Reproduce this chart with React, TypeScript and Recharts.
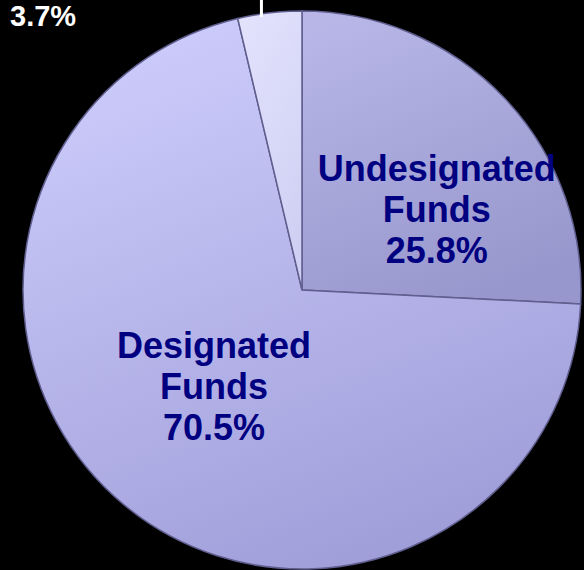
import React from "react";
import { PieChart, Pie, Cell } from "recharts";

const names = ["Undesignated Funds", "Designated Funds", "Other"];
const shares = [25.8, 70.5, 3.7];
const showName = [true, true, false];

const data = names.map((name, i) => ({ name, value: shares[i] }));

const gradients = [
  { id: "gUndes", from: "#b7b6e7", to: "#9897cd" },
  { id: "gDes", from: "#cdcdfc", to: "#a09ed9" },
  { id: "gOther", from: "#e2e2fd", to: "#cfcff3" },
];

// label placement: radius factor + angle tweak relative to the slice mid angle
const labelLayout = [
  { rf: 0.564, shift: -12.5 },
  { rf: 0.467, shift: -2.7 },
  { rf: 1, shift: 1.7 },
];

const RAD = Math.PI / 180;

function renderLabel(props: any) {
  const { cx, cy, midAngle, outerRadius, index, name, value } = props;
  const lay = labelLayout[index];
  const ang = midAngle + lay.shift;
  const r = outerRadius * lay.rf;
  const x = cx + r * Math.cos(-ang * RAD);
  const y = cy + r * Math.sin(-ang * RAD);

  if (!showName[index]) {
    // outside label with a short leader going up
    return (
      <g>
        <line x1={x} y1={y + 3} x2={x} y2={y - 20} stroke="#ffffff" strokeWidth={3} />
        <text
          x={cx - outerRadius - 13}
          y={cy - outerRadius + 15}
          fill="#ffffff"
          fontSize={29}
          fontWeight="bold"
          fontFamily="'Liberation Sans', Arial, sans-serif"
        >
          {`${value}%`}
        </text>
      </g>
    );
  }

  const lines = [...String(name).split(" "), `${value}%`];
  const lh = 41;
  const base = y + 13 - ((lines.length - 1) / 2) * lh;
  return (
    <text
      x={x}
      y={base}
      fill="#000080"
      fontSize={36}
      fontWeight="bold"
      textAnchor="middle"
      fontFamily="'Liberation Sans', Arial, sans-serif"
    >
      {lines.map((l, i) => (
        <tspan key={i} x={x} y={base + i * lh}>
          {l}
        </tspan>
      ))}
    </text>
  );
}

export default function App() {
  return (
    <div style={{ position: "absolute", left: 0, top: 0, width: 584, height: 570, background: "#000", overflow: "hidden" }}>
      <PieChart width={584} height={570} margin={{ top: 0, right: 0, bottom: 0, left: 0 }}>
        <defs>
          {gradients.map((g) => (
            <linearGradient key={g.id} id={g.id} x1="0.2" y1="0" x2="0.6" y2="1">
              <stop offset="0%" stopColor={g.from} />
              <stop offset="100%" stopColor={g.to} />
            </linearGradient>
          ))}
        </defs>
        <Pie
          data={data}
          dataKey="value"
          nameKey="name"
          cx={302}
          cy={290}
          outerRadius={279}
          startAngle={90}
          endAngle={-270}
          stroke="#5f5e8e"
          strokeWidth={1.5}
          label={renderLabel}
          labelLine={false}
          isAnimationActive={false}
        >
          {data.map((d, i) => (
            <Cell key={d.name} fill={`url(#${gradients[i].id})`} />
          ))}
        </Pie>
      </PieChart>
    </div>
  );
}
